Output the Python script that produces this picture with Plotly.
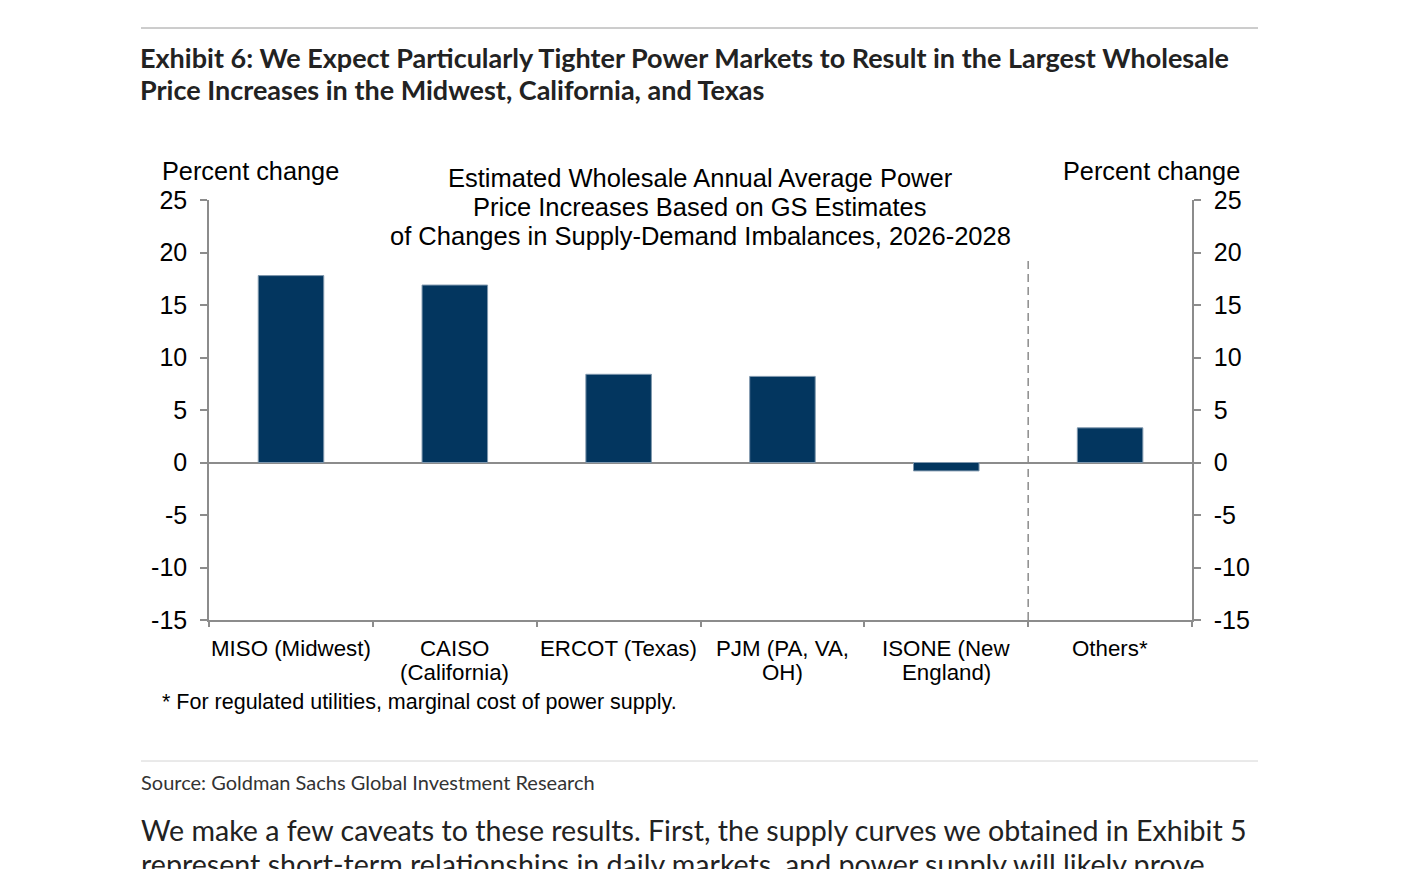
import plotly.graph_objects as go

regions = ['MISO (Midwest)', 'CAISO<br>(California)', 'ERCOT (Texas)',
           'PJM (PA, VA,<br>OH)', 'ISONE (New<br>England)', 'Others*']
pct_change = [17.8, 16.9, 8.4, 8.2, -0.8, 3.3]
y_ticks = [25, 20, 15, 10, 5, 0, -5, -10, -15]

title_lines = ['Exhibit 6: We Expect Particularly Tighter Power Markets to Result in the Largest Wholesale',
               'Price Increases in the Midwest, California, and Texas']
chart_title = ['Estimated Wholesale Annual Average Power',
               'Price Increases Based on GS Estimates',
               'of Changes in Supply-Demand Imbalances, 2026-2028']
footnote = '* For regulated utilities, marginal cost of power supply.'
source = 'Source: Goldman Sachs Global Investment Research'
body = ['We make a few caveats to these results. First, the supply curves we obtained in Exhibit 5',
        'represent short-term relationships in daily markets, and power supply will likely prove']

W, H = 1401, 869
OFF = 8                            # page body margin of the browser
L, R, T, B = 209, 1192, 200, 620   # plot area in screen pixels
NAVY = '#03365F'
GREY = '#8c8c8c'
CHART_FONT = 'Liberation Sans'
DOC_FONT = 'Lato'


def px(x):
    return (x - L) / (R - L)


def py(y):
    return (B - y) / (B - T)


fig = go.Figure()
fig.add_trace(go.Bar(x=regions, y=pct_change, width=0.4,
                     marker=dict(color=NAVY, line=dict(color='#7f97ad', width=1)),
                     showlegend=False, hoverinfo='skip'))
# invisible copy so the right axis gets drawn
fig.add_trace(go.Scatter(x=regions, y=pct_change, yaxis='y2',
                         mode='markers', marker=dict(opacity=0),
                         showlegend=False, hoverinfo='skip'))

axis_common = dict(range=[-15, 25], tickvals=y_ticks, ticktext=[str(v) for v in y_ticks],
                   ticks='outside', ticklen=7, tickcolor=GREY, tickwidth=1.5,
                   ticklabelstandoff=8,
                   showline=True, linecolor=GREY, linewidth=1.5, showgrid=False,
                   tickfont=dict(family=CHART_FONT, size=25, color='#000'))

fig.update_layout(
    width=W - OFF, height=H - OFF,
    margin=dict(l=L - OFF, r=W - R, t=T - OFF, b=H - B),
    plot_bgcolor='white', paper_bgcolor='white',
    xaxis=dict(type='category', tickson='boundaries', ticks='outside', ticklen=5,
               tickcolor=GREY, tickwidth=1.5, showline=True, linecolor=GREY, linewidth=1.5,
               showgrid=False, zeroline=False, showticklabels=False),
    yaxis=dict(**axis_common, zeroline=True, zerolinecolor=GREY, zerolinewidth=2),
    yaxis2=dict(**axis_common, overlaying='y', side='right', zeroline=False),
)

# separator between the ISOs and "Others"
fig.add_shape(type='line', xref='x', yref='y', x0=4.5, x1=4.5, y0=-15, y1=19.3,
              line=dict(color=GREY, width=1.5, dash='8px,5px'))

# page rules
fig.add_shape(type='line', xref='paper', yref='paper', x0=px(141), x1=px(1258),
              y0=py(28), y1=py(28), line=dict(color='#9a9a9a', width=1))
fig.add_shape(type='line', xref='paper', yref='paper', x0=px(141), x1=px(1258),
              y0=py(761), y1=py(761), line=dict(color='#d4d4d4', width=1))


def note(text, x, y, size, family, anchor='left', color='#000', bold=False, xref='paper'):
    if bold:
        text = '<b>' + text + '</b>'
    fig.add_annotation(text=text, xref=xref, yref='paper',
                       x=px(x) if xref == 'paper' else x, y=py(y),
                       xanchor=anchor, yanchor='middle', showarrow=False,
                       font=dict(family=family, size=size, color=color))


# category labels, drawn line by line for the tighter spacing of the original
for reg in regions:
    for k, part in enumerate(reg.split('<br>')):
        note(part, reg, 648 + 24 * k, 22.3, CHART_FONT, anchor='center', xref='x')

for i, line in enumerate(title_lines):
    note(line, 138, 57 + 32 * i, 27, DOC_FONT, color='#222', bold=True)

for i, line in enumerate(chart_title):
    note(line, 700, 178 + 29 * i, 25.5, CHART_FONT, anchor='center')

note('Percent change', 250, 171, 25.3, CHART_FONT, anchor='center')
note('Percent change', 1151, 171, 25.3, CHART_FONT, anchor='center')
note(footnote, 160, 702, 21.5, CHART_FONT)
note(source, 139, 782, 20, DOC_FONT, color='#333')
for i, line in enumerate(body):
    note(line, 139, 830 + 34 * i, 28.6, DOC_FONT, color='#222')

fig.write_html("out.html")
